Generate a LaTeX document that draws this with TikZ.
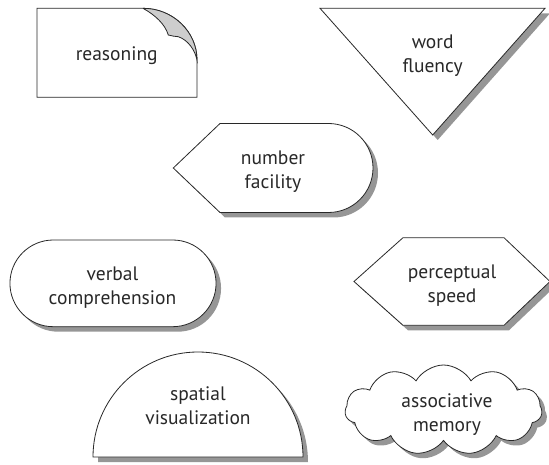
\documentclass[tikz,border=0pt]{standalone}
\usepackage{fontspec}
\setmainfont{PT Sans}
\usetikzlibrary{shapes.symbols, shadows}
\definecolor{inkGray}{RGB}{40, 40, 40}
\definecolor{shadowGray}{RGB}{150, 150, 150}
\definecolor{flapGray}{RGB}{205, 205, 205}

\begin{document}
\begin{tikzpicture}[
        x=1pt, y=1pt,
        outline/.style={draw=inkGray, line width=0.8pt, fill=white, line join=miter},
        shadowed/.style={drop shadow={shadow xshift=5pt, shadow yshift=-5pt, fill=shadowGray, opacity=1}},
        flap/.style={draw=inkGray, line width=0.8pt, fill=flapGray},
        txt/.style={align=center, inner sep=0pt, text=inkGray, font=\fontsize{19.5}{24}\selectfont}
    ]
        \useasboundingbox (0,0) rectangle (549,464);

        % Reasoning (page with curled corner)
        \draw[outline] (37,366.7) -- (37,455.7) -- (143,455.7)
            .. controls (172.7,455.7) and (197,432.4) .. (197,404) -- (197,366.7) -- cycle;
        \draw[flap] (143,455.7) .. controls (155,449) and (165,440) .. (168.3,429)
            .. controls (172,428) and (175,427.5) .. (178.3,427.3)
            .. controls (188,424) and (195,414) .. (197,404)
            .. controls (197,432.4) and (172.7,455.7) .. (143,455.7);

        % Word fluency (triangle)
        \draw[outline, shadowed] (320,455.7) -- (545,455.7) -- (432.7,329) -- cycle;

        % Number facility (arrow head with round end)
        \draw[outline, shadowed] (173.3,296) -- (220,340.5) -- (328.5,340.5)
            arc[start angle=90, end angle=-90, radius=44.5] -- (220,251.5) -- cycle;

        % Verbal comprehension (rounded box)
        \draw[outline, shadowed] (53.3,224) -- (172.7,224)
            arc[start angle=90, end angle=-90, radius=43.35] -- (53.3,137.3)
            arc[start angle=270, end angle=90, radius=43.35] -- cycle;

        % Perceptual speed (hexagon)
        \draw[outline, shadowed] (354,182.5) -- (403,226.3) -- (504,226.3) -- (550,182.5)
            -- (504,138.7) -- (403,138.7) -- cycle;

        % Spatial visualization (half disc)
        \draw[outline, shadowed] (93,7) arc[start angle=180, end angle=0, radius=105] -- cycle;

        % Associative memory (cloud)
        \node[outline, shadowed, cloud, cloud puffs=11, cloud puff arc=120,
            minimum width=197, minimum height=90, cloud ignores aspect] (memcloud) at (443.5,54) {};

        % Labels
        \node[txt] (reason) at (116.7,408.2) {reasoning};
        \node[txt] (word) at (432.7,408.7) {word\\fluency};
        \node[txt] (number) at (273,292.8) {number\\facility};
        \node[txt] (verbal) at (112.5,176.5) {verbal\\comprehension};
        \node[txt] (percept) at (452,178.2) {perceptual\\speed};
        \node[txt] (spatial) at (198,57.8) {spatial\\visualization};
        \node[txt] (memory) at (447,49.8) {associative\\memory};
    \end{tikzpicture}
\end{document}
